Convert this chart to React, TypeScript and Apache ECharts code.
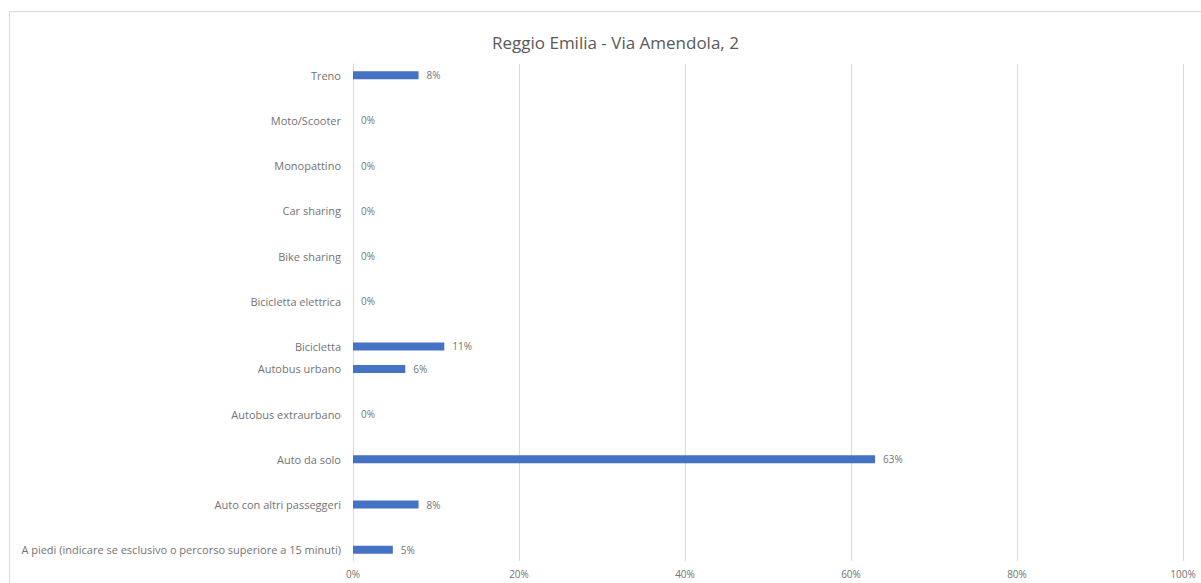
import React, { useEffect, useRef } from "react";
import * as echarts from "echarts";

const titleText = "Reggio Emilia - Via Amendola, 2";

// Category slots (top to bottom); "_" entries are empty spacer slots
const categories = [
  "Treno", "_1",
  "Moto/Scooter", "_2",
  "Monopattino", "_3",
  "Car sharing", "_4",
  "Bike sharing", "_5",
  "Bicicletta elettrica", "_6",
  "Bicicletta",
  "Autobus urbano", "_7",
  "Autobus extraurbano", "_8",
  "Auto da solo", "_9",
  "Auto con altri passeggeri", "_10",
  "A piedi (indicare se esclusivo o percorso superiore a 15 minuti)",
];

// Percent values per slot (null = spacer slot)
const values = [
  7.9, null,
  0, null,
  0, null,
  0, null,
  0, null,
  0, null,
  11.0,
  6.3, null,
  0, null,
  62.9, null,
  7.9, null,
  4.8,
];

const xTicks = [0, 20, 40, 60, 80, 100];

export default function App() {
  const ref = useRef<HTMLDivElement>(null);
  useEffect(() => {
    if (!ref.current) return;
    const chart = echarts.init(ref.current, null, { renderer: "svg" });
    const font = "'Open Sans', sans-serif";
    const txt = "#737373";
    chart.setOption({
      animation: false,
      backgroundColor: "#ffffff",
      title: {
        text: titleText,
        left: 487,
        top: 29,
        textStyle: { fontFamily: font, fontSize: 17, fontWeight: "normal", color: "#595959" },
      },
      graphic: [
        {
          type: "rect",
          shape: { x: 9.5, y: 11.5, width: 1220, height: 620 },
          style: { fill: "none", stroke: "#d9d9d9", lineWidth: 1 },
          silent: true,
        },
      ],
      grid: { left: 353, right: 18, top: 64, bottom: 22, containLabel: false },
      xAxis: {
        type: "value",
        min: xTicks[0],
        max: xTicks[xTicks.length - 1],
        interval: 20,
        axisLine: { show: false },
        axisTick: { show: false },
        axisLabel: {
          formatter: (v: number) => `${v}%`,
          color: txt,
          fontFamily: font,
          fontSize: 10,
          margin: 8,
        },
        splitLine: { show: true, lineStyle: { color: "#d9d9d9", width: 1 } },
      },
      yAxis: {
        type: "category",
        inverse: true,
        data: categories,
        axisLine: { show: true, lineStyle: { color: "#d9d9d9", width: 1 } },
        axisTick: { show: false },
        axisLabel: {
          interval: 0,
          formatter: (v: string) => (v.startsWith("_") ? "" : v),
          color: txt,
          fontFamily: font,
          fontSize: 11,
          margin: 12,
        },
        splitLine: { show: false },
      },
      series: [
        {
          type: "bar",
          data: values,
          barWidth: 8,
          itemStyle: { color: "#4472C4" },
          label: {
            show: true,
            position: "right",
            distance: 8,
            formatter: (p: any) => (p.value == null ? "" : `${Math.round(p.value)}%`),
            color: txt,
            fontFamily: font,
            fontSize: 10,
          },
        },
      ],
    });
    return () => chart.dispose();
  }, []);
  return (
    <div
      ref={ref}
      style={{ position: "fixed", left: 0, top: 0, width: 1201, height: 583 }}
    />
  );
}
